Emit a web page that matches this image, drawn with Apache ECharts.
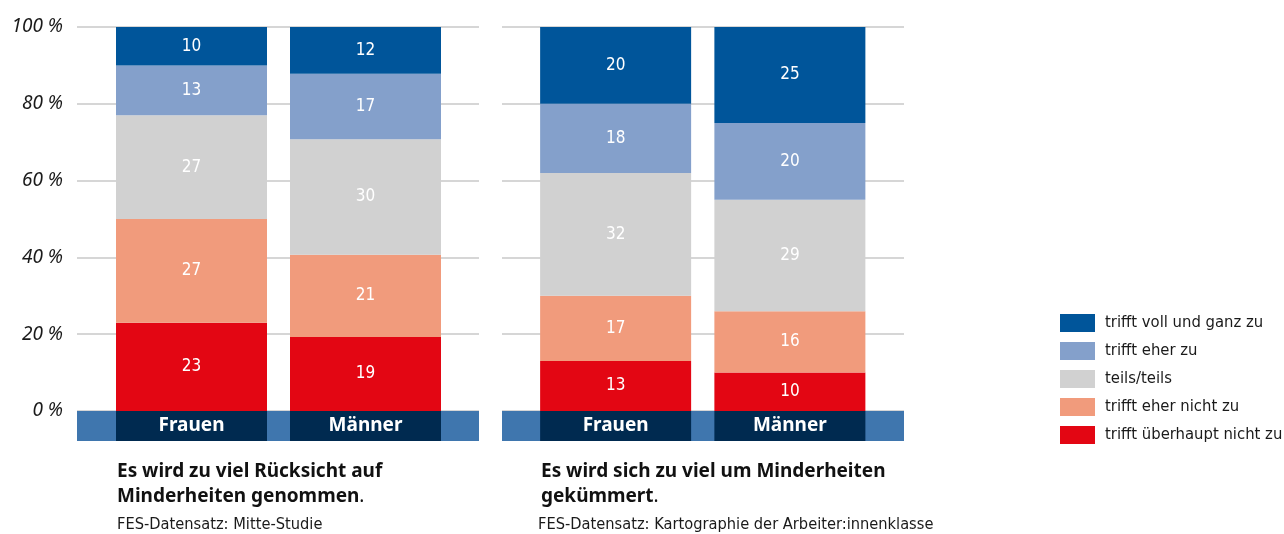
<!DOCTYPE html>
<html>
<head>
<meta charset="utf-8">
<script src="https://cdn.jsdelivr.net/npm/echarts@6/dist/echarts.min.js"></script>
<style>
  html, body { margin: 0; padding: 0; background: #fff; }
  #main { width: 1284px; height: 534px; }
</style>
</head>
<body>
<div id="main"></div>
<script>
// Kategorien und Antwortstufen
var categories = ['Frauen', 'Männer'];
var seriesNames = ['trifft überhaupt nicht zu', 'trifft eher nicht zu', 'teils/teils', 'trifft eher zu', 'trifft voll und ganz zu'];
var colors = ['#e30613', '#f19b7c', '#d1d1d1', '#84a0cb', '#00559a'];
var yTicks = [0, 20, 40, 60, 80, 100];

// Linkes Diagramm: Rücksicht auf Minderheiten (Frauen, Männer)
var leftNicht = [23, 19.3];
var leftEherNicht = [27, 21.4];
var leftTeils = [27, 30.1];
var leftEher = [13, 17.0];
var leftVoll = [10, 12.2];

// Rechtes Diagramm: um Minderheiten gekümmert
var rightNicht = [13, 10];
var rightEherNicht = [17, 16];
var rightTeils = [32, 29];
var rightEher = [18, 20];
var rightVoll = [20, 25];

var leftData = [leftNicht, leftEherNicht, leftTeils, leftEher, leftVoll];
var rightData = [rightNicht, rightEherNicht, rightTeils, rightEher, rightVoll];

var condensed = "'Liberation Sans Narrow', 'DejaVu Sans Condensed', 'Noto Sans', sans-serif";

var myChart = echarts.init(document.getElementById('main'));

function bandAxes(gridIndex, showLabels) {
    return {
        x: {
            type: 'category', gridIndex: gridIndex, data: [''],
            offset: 15,
            axisLine: { show: true, onZero: false, lineStyle: { color: '#3f76ae', width: 30, cap: 'butt' } },
            axisTick: { show: false }, axisLabel: { show: false }
        },
        y: {
            type: 'value', gridIndex: gridIndex, min: yTicks[0], max: yTicks[yTicks.length - 1], interval: 20,
            axisLine: { show: false }, axisTick: { show: false },
            splitLine: { show: true, lineStyle: { color: '#d6d6d6', width: 2 } },
            axisLabel: {
                show: showLabels, margin: 14,
                formatter: '{value} %',
                fontFamily: 'Noto Sans', fontStyle: 'italic', fontSize: 19, color: '#1a1a1a'
            }
        }
    };
}

function barAxes(gridIndex) {
    return {
        x: {
            type: 'category', gridIndex: gridIndex, data: categories,
            axisLine: { show: false, onZero: false }, axisTick: { show: false },
            axisLabel: {
                margin: 0, color: '#ffffff', fontWeight: 'bold', fontSize: 19,
                fontFamily: 'Noto Sans',
                backgroundColor: '#002a50', width: 151, height: 30, lineHeight: 30,
                align: 'center', verticalAlign: 'top'
            }
        },
        y: {
            type: 'value', gridIndex: gridIndex, min: 0, max: 100, show: false
        }
    };
}

var a0 = bandAxes(0, true), a1 = barAxes(1), a2 = bandAxes(2, false), a3 = barAxes(3);

function makeSeries(data, axisIndex, stackName) {
    return data.map(function (vals, i) {
        return {
            name: seriesNames[i],
            type: 'bar',
            stack: stackName,
            xAxisIndex: axisIndex,
            yAxisIndex: axisIndex,
            barWidth: 151,
            itemStyle: { color: colors[i] },
            label: {
                show: true, position: 'inside', color: '#ffffff',
                fontSize: 17, fontFamily: condensed,
                formatter: function (p) { return Math.round(p.value); }
            },
            data: vals
        };
    });
}

var richTitle = {
    b: { fontFamily: 'Noto Sans', fontWeight: 'bold', fontSize: 19, lineHeight: 25, color: '#111' },
    n: { fontFamily: 'Noto Sans', fontWeight: 'normal', fontSize: 19, lineHeight: 25, color: '#111' }
};

myChart.setOption({
    animation: false,
    color: colors,
    grid: [
        { left: 77, right: 805, top: 27, bottom: 123 },
        { left: 104.5, right: 831.5, top: 27, bottom: 123 },
        { left: 502, right: 380, top: 27, bottom: 123 },
        { left: 528.5, right: 407, top: 27, bottom: 123 }
    ],
    xAxis: [a0.x, a1.x, a2.x, a3.x],
    yAxis: [a0.y, a1.y, a2.y, a3.y],
    legend: {
        orient: 'vertical', left: 1060, top: 314, padding: 0,
        itemWidth: 35, itemHeight: 18, itemGap: 10,
        icon: 'rect',
        data: seriesNames.slice().reverse(),
        textStyle: { fontSize: 16.5, fontFamily: condensed, color: '#1a1a1a', padding: [0, 0, 0, 5] }
    },
    title: [
        {
            left: 117, top: 459, padding: 0,
            text: '{b|Es wird zu viel Rücksicht auf}\n{b|Minderheiten genommen}{n|.}',
            textStyle: { rich: richTitle }
        },
        {
            left: 541, top: 459, padding: 0,
            text: '{b|Es wird sich zu viel um Minderheiten}\n{b|gekümmert}{n|.}',
            textStyle: { rich: richTitle }
        },
        {
            left: 117, top: 517, padding: 0,
            text: 'FES-Datensatz: Mitte-Studie',
            textStyle: { fontFamily: condensed, fontWeight: 'normal', fontSize: 16.3, color: '#1a1a1a' }
        },
        {
            left: 538, top: 517, padding: 0,
            text: 'FES-Datensatz: Kartographie der Arbeiter:innenklasse',
            textStyle: { fontFamily: condensed, fontWeight: 'normal', fontSize: 16.3, color: '#1a1a1a' }
        }
    ],
    series: makeSeries(leftData, 1, 'left').concat(makeSeries(rightData, 3, 'right'))
});
</script>
</body>
</html>
